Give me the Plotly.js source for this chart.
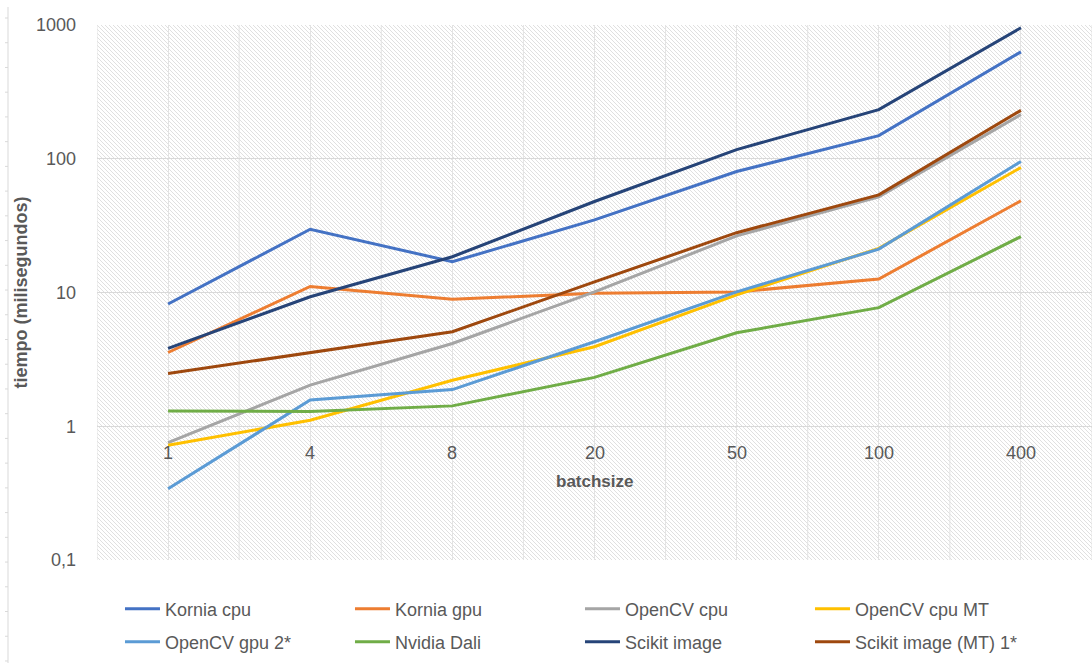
<!DOCTYPE html>
<html>
<head>
<meta charset="utf-8">
<script src="https://cdn.plot.ly/plotly-3.0.1.min.js"></script>
<style>
  html, body { margin: 0; padding: 0; background: #ffffff; }
  #chart { width: 1092px; height: 663px; }
</style>
</head>
<body>
<div id="chart"></div>
<script>
// ---- data ----
var categories = ['1', '4', '8', '20', '50', '100', '400'];
var korniaCpu   = [8.2, 29.7, 17.0, 34.9, 80.3, 149, 630];
var korniaGpu   = [3.56, 11.1, 8.9, 9.86, 10.1, 12.6, 48.5];
var opencvCpu   = [0.755, 2.03, 4.16, 10.1, 26.5, 51.9, 214];
var opencvCpuMT = [0.72, 1.11, 2.21, 3.93, 9.6, 21.4, 86.1];
var opencvGpu2  = [0.341, 1.57, 1.88, 4.28, 10.1, 21.1, 95.5];
var nvidiaDali  = [1.30, 1.29, 1.42, 2.32, 5.0, 7.7, 26.2];
var scikitImage = [3.82, 9.3, 18.5, 47.9, 117, 233, 953];
var scikitMT    = [2.48, 3.56, 5.09, 12.0, 28.0, 53.7, 230];

var seriesNames = ['Kornia cpu', 'Kornia gpu', 'OpenCV cpu', 'OpenCV cpu MT',
                   'OpenCV gpu 2*', 'Nvidia Dali', 'Scikit image', 'Scikit image (MT) 1*'];
var seriesValues = [korniaCpu, korniaGpu, opencvCpu, opencvCpuMT,
                    opencvGpu2, nvidiaDali, scikitImage, scikitMT];
var seriesColors = ['#4472C4', '#ED7D31', '#A5A5A5', '#FFC000',
                    '#5B9BD5', '#70AD47', '#264478', '#9E480E'];

var yTickVals = [0.1, 1, 10, 100, 1000];
var yTickText = ['0,1', '1', '10', '100', '1000'];

var fontFam = 'Liberation Sans, Arial, sans-serif';
var grey = '#595959';

var traces = seriesNames.map(function (name, i) {
  return {
    type: 'scatter',
    mode: 'lines',
    name: name,
    x: categories,
    y: seriesValues[i],
    line: { color: seriesColors[i], width: 3 },
    legend: i < 4 ? 'legend' : 'legend2',
    hoverinfo: 'x+y+name'
  };
});

// hatched plot background (SVG pattern)
var W = 995, H = 535;
var svg = '<svg xmlns="http://www.w3.org/2000/svg" width="' + W + '" height="' + H + '" viewBox="0 0 ' + W + ' ' + H + '" preserveAspectRatio="none">' +
  '<defs><pattern id="h" patternUnits="userSpaceOnUse" width="4" height="4">' +
  '<rect width="4" height="4" fill="#ffffff"/>' +
  '<path d="M-1,-1 L5,5 M-1,3 L1,5 M3,-1 L5,1" stroke="#dcdcdc" stroke-width="0.9"/>' +
  '</pattern></defs><rect width="100%" height="100%" fill="url(#h)"/></svg>';
var bgSrc = 'data:image/svg+xml;charset=utf-8,' + encodeURIComponent(svg);

// vertical gridlines between categories
var shapes = [];
for (var k = 0; k <= categories.length; k++) {
  shapes.push({
    type: 'line', xref: 'x', yref: 'paper', layer: 'below',
    x0: k - 0.5, x1: k - 0.5, y0: 0, y1: 1,
    line: { color: '#e3e3e3', width: 1 }
  });
}
// stray vertical line at the far left (as in the reference)
var lx = (8 - 97) / 995;
shapes.push({
  type: 'line', xref: 'paper', yref: 'paper',
  x0: lx, x1: lx, y0: (560 - 7) / 535, y1: (560 - 663) / 535,
  line: { color: '#d9d9d9', width: 1 }
});
for (var t = 0; t < 27; t++) {
  var py = 18 + t * 24.73;
  var yy = (560 - py) / 535;
  shapes.push({
    type: 'line', xref: 'paper', yref: 'paper',
    x0: (5 - 97) / 995, x1: lx, y0: yy, y1: yy,
    line: { color: '#d9d9d9', width: 1 }
  });
}

// x tick labels placed where the axis crosses at y = 1
var annotations = categories.map(function (c, i) {
  return {
    xref: 'x', yref: 'y', x: i, y: 0, yshift: -27,
    text: c, showarrow: false, xanchor: 'center', yanchor: 'middle',
    font: { family: fontFam, size: 18, color: grey }
  };
});
annotations.push({
  xref: 'paper', yref: 'y', x: 0.5, y: 0, yshift: -55,
  text: '<b>batchsize</b>', showarrow: false, xanchor: 'center', yanchor: 'middle',
  font: { family: fontFam, size: 17, color: grey }
});

var legendCommon = {
  orientation: 'h',
  xanchor: 'left',
  yanchor: 'middle',
  x: 0.0231,
  entrywidth: 180,
  entrywidthmode: 'pixels',
  itemwidth: 35,
  bgcolor: 'rgba(0,0,0,0)',
  borderwidth: 0,
  font: { family: fontFam, size: 18, color: grey }
};

var layout = {
  width: 1092,
  height: 663,
  margin: { l: 97, r: 0, t: 25, b: 103 },
  paper_bgcolor: '#ffffff',
  plot_bgcolor: 'rgba(0,0,0,0)',
  font: { family: fontFam, color: grey },
  showlegend: true,
  legend: Object.assign({}, legendCommon, { y: (560 - 609) / 535 }),
  legend2: Object.assign({}, legendCommon, { y: (560 - 642) / 535 }),
  xaxis: {
    type: 'category',
    range: [-0.5, categories.length - 0.5],
    showgrid: true,
    gridcolor: '#e3e3e3',
    gridwidth: 1,
    showticklabels: false,
    ticks: '',
    zeroline: false,
    showline: false,
    fixedrange: true
  },
  yaxis: {
    type: 'log',
    range: [-1, 3],
    tickvals: yTickVals,
    ticktext: yTickText,
    ticks: '',
    ticklabelstandoff: 20,
    tickfont: { family: fontFam, size: 18, color: grey },
    showgrid: true,
    gridcolor: '#d9d9d9',
    gridwidth: 1,
    zeroline: false,
    showline: false,
    fixedrange: true,
    title: {
      text: '<b>tiempo (milisegundos)</b>',
      font: { family: fontFam, size: 18, color: grey },
      standoff: 3
    }
  },
  images: [{
    source: bgSrc,
    xref: 'paper', yref: 'paper',
    x: 0, y: 1, sizex: 1, sizey: 1,
    xanchor: 'left', yanchor: 'top',
    sizing: 'stretch',
    layer: 'below'
  }],
  shapes: shapes,
  annotations: annotations
};

Plotly.newPlot('chart', traces, layout, { displayModeBar: false, staticPlot: false });
</script>
</body>
</html>
